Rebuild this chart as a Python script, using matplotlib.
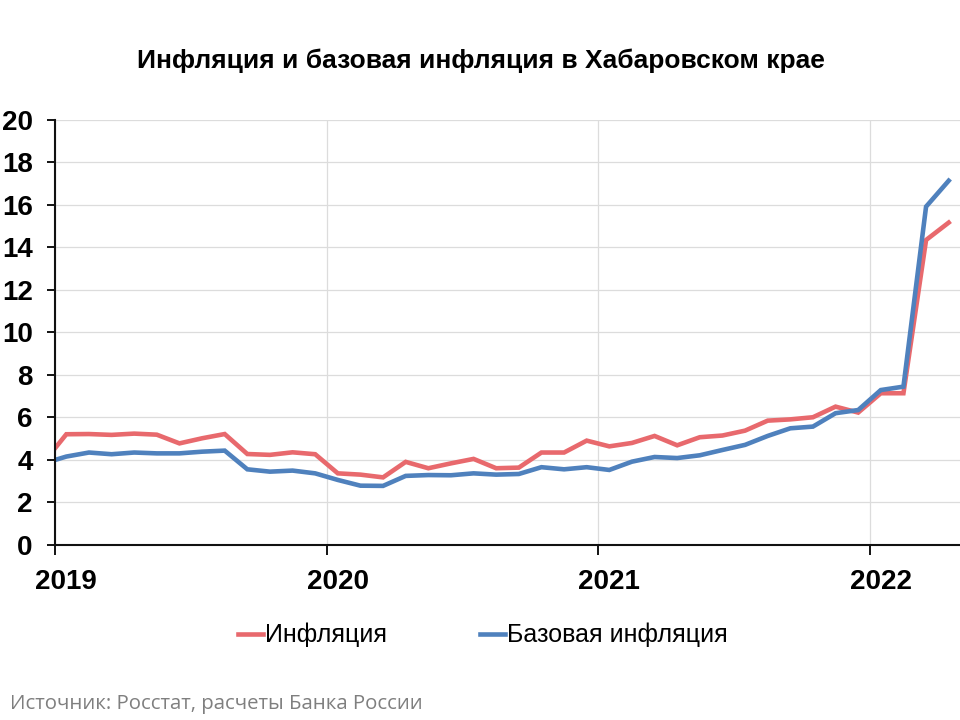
import numpy as np
import matplotlib.pyplot as plt

# monthly data, Dec 2018 .. Apr 2022 (Dec 2018 only shows as the clipped start)
months = ['2018-12'] + ['%d-%02d' % (y, m) for y in (2019, 2020, 2021) for m in range(1, 13)] + \
         ['2022-01', '2022-02', '2022-03', '2022-04']
infl = [3.89,
        5.21, 5.22, 5.18, 5.24, 5.19, 4.78, 5.02, 5.22, 4.28, 4.24, 4.36, 4.27,
        3.37, 3.31, 3.18, 3.91, 3.61, 3.84, 4.05, 3.61, 3.64, 4.35, 4.35, 4.91,
        4.64, 4.80, 5.13, 4.69, 5.07, 5.15, 5.38, 5.85, 5.91, 6.01, 6.51, 6.23,
        7.14, 7.14, 14.35, 15.17]
core = [3.84,
        4.16, 4.35, 4.27, 4.35, 4.31, 4.31, 4.39, 4.44, 3.56, 3.45, 3.50, 3.37,
        3.06, 2.79, 2.78, 3.25, 3.29, 3.28, 3.37, 3.31, 3.34, 3.66, 3.56, 3.66,
        3.53, 3.92, 4.14, 4.09, 4.22, 4.47, 4.71, 5.13, 5.49, 5.57, 6.20, 6.35,
        7.29, 7.45, 15.92, 17.14]
years = ['2019', '2020', '2021', '2022']

RED = '#E8696D'
BLUE = '#4F81BD'

x = np.arange(len(months)) - 0.5  # month centres, Jan 2019 -> 0.5

fig = plt.figure(figsize=(9.6, 7.2), dpi=100)
ax = fig.add_axes([0.0573, 0.2431, 0.9427, 0.5903])

ax.plot(x, infl, color=RED, lw=3.3, label='Инфляция', solid_joinstyle='miter')
ax.plot(x, core, color=BLUE, lw=3.3, label='Базовая инфляция', solid_joinstyle='miter')

ax.set_xlim(0, 40)
ax.set_ylim(0, 20)
ax.set_yticks(np.arange(0, 21, 2))
ax.set_xticks([0, 12, 24, 36])
ax.set_xticklabels([])
ax.set_xticks([0.5, 12.5, 24.5, 36.5], minor=True)
ax.set_xticklabels(years, minor=True)
ax.tick_params(axis='x', which='major', length=7, width=1.3, direction='out')
ax.tick_params(axis='x', which='minor', length=0, pad=17, labelsize=20)
ax.tick_params(axis='y', length=6, width=1.3, direction='out', pad=10, labelsize=20)
for lab in ax.get_xticklabels(minor=True) + ax.get_yticklabels():
    lab.set_fontweight('bold')
    lab.set_family('Liberation Sans')

ax.grid(True, axis='y', color='#DCDCDC', lw=0.9)
ax.grid(True, axis='x', which='major', color='#DCDCDC', lw=0.9)
ax.set_axisbelow(True)
for s in ('top', 'right'):
    ax.spines[s].set_visible(False)
for s in ('left', 'bottom'):
    ax.spines[s].set_linewidth(1.5)
    ax.spines[s].set_color('#111111')

fig.text(0.5005, 0.915, 'Инфляция и базовая инфляция в Хабаровском крае', ha='center', va='center',
         fontsize=19, fontweight='bold', family='Liberation Sans')

fig.legend(loc='center', bbox_to_anchor=(0.503, 0.118), ncol=2, frameon=False,
           prop={'family': 'Liberation Sans', 'size': 18}, handlelength=1.0,
           handletextpad=0.1, columnspacing=3.7)

fig.text(0.010, 0.022, 'Источник: Росстат, расчеты Банка России', ha='left', va='center',
         fontsize=14.7, color='#7F7F7F', family='Open Sans')

fig.savefig('out.png', dpi=100)
